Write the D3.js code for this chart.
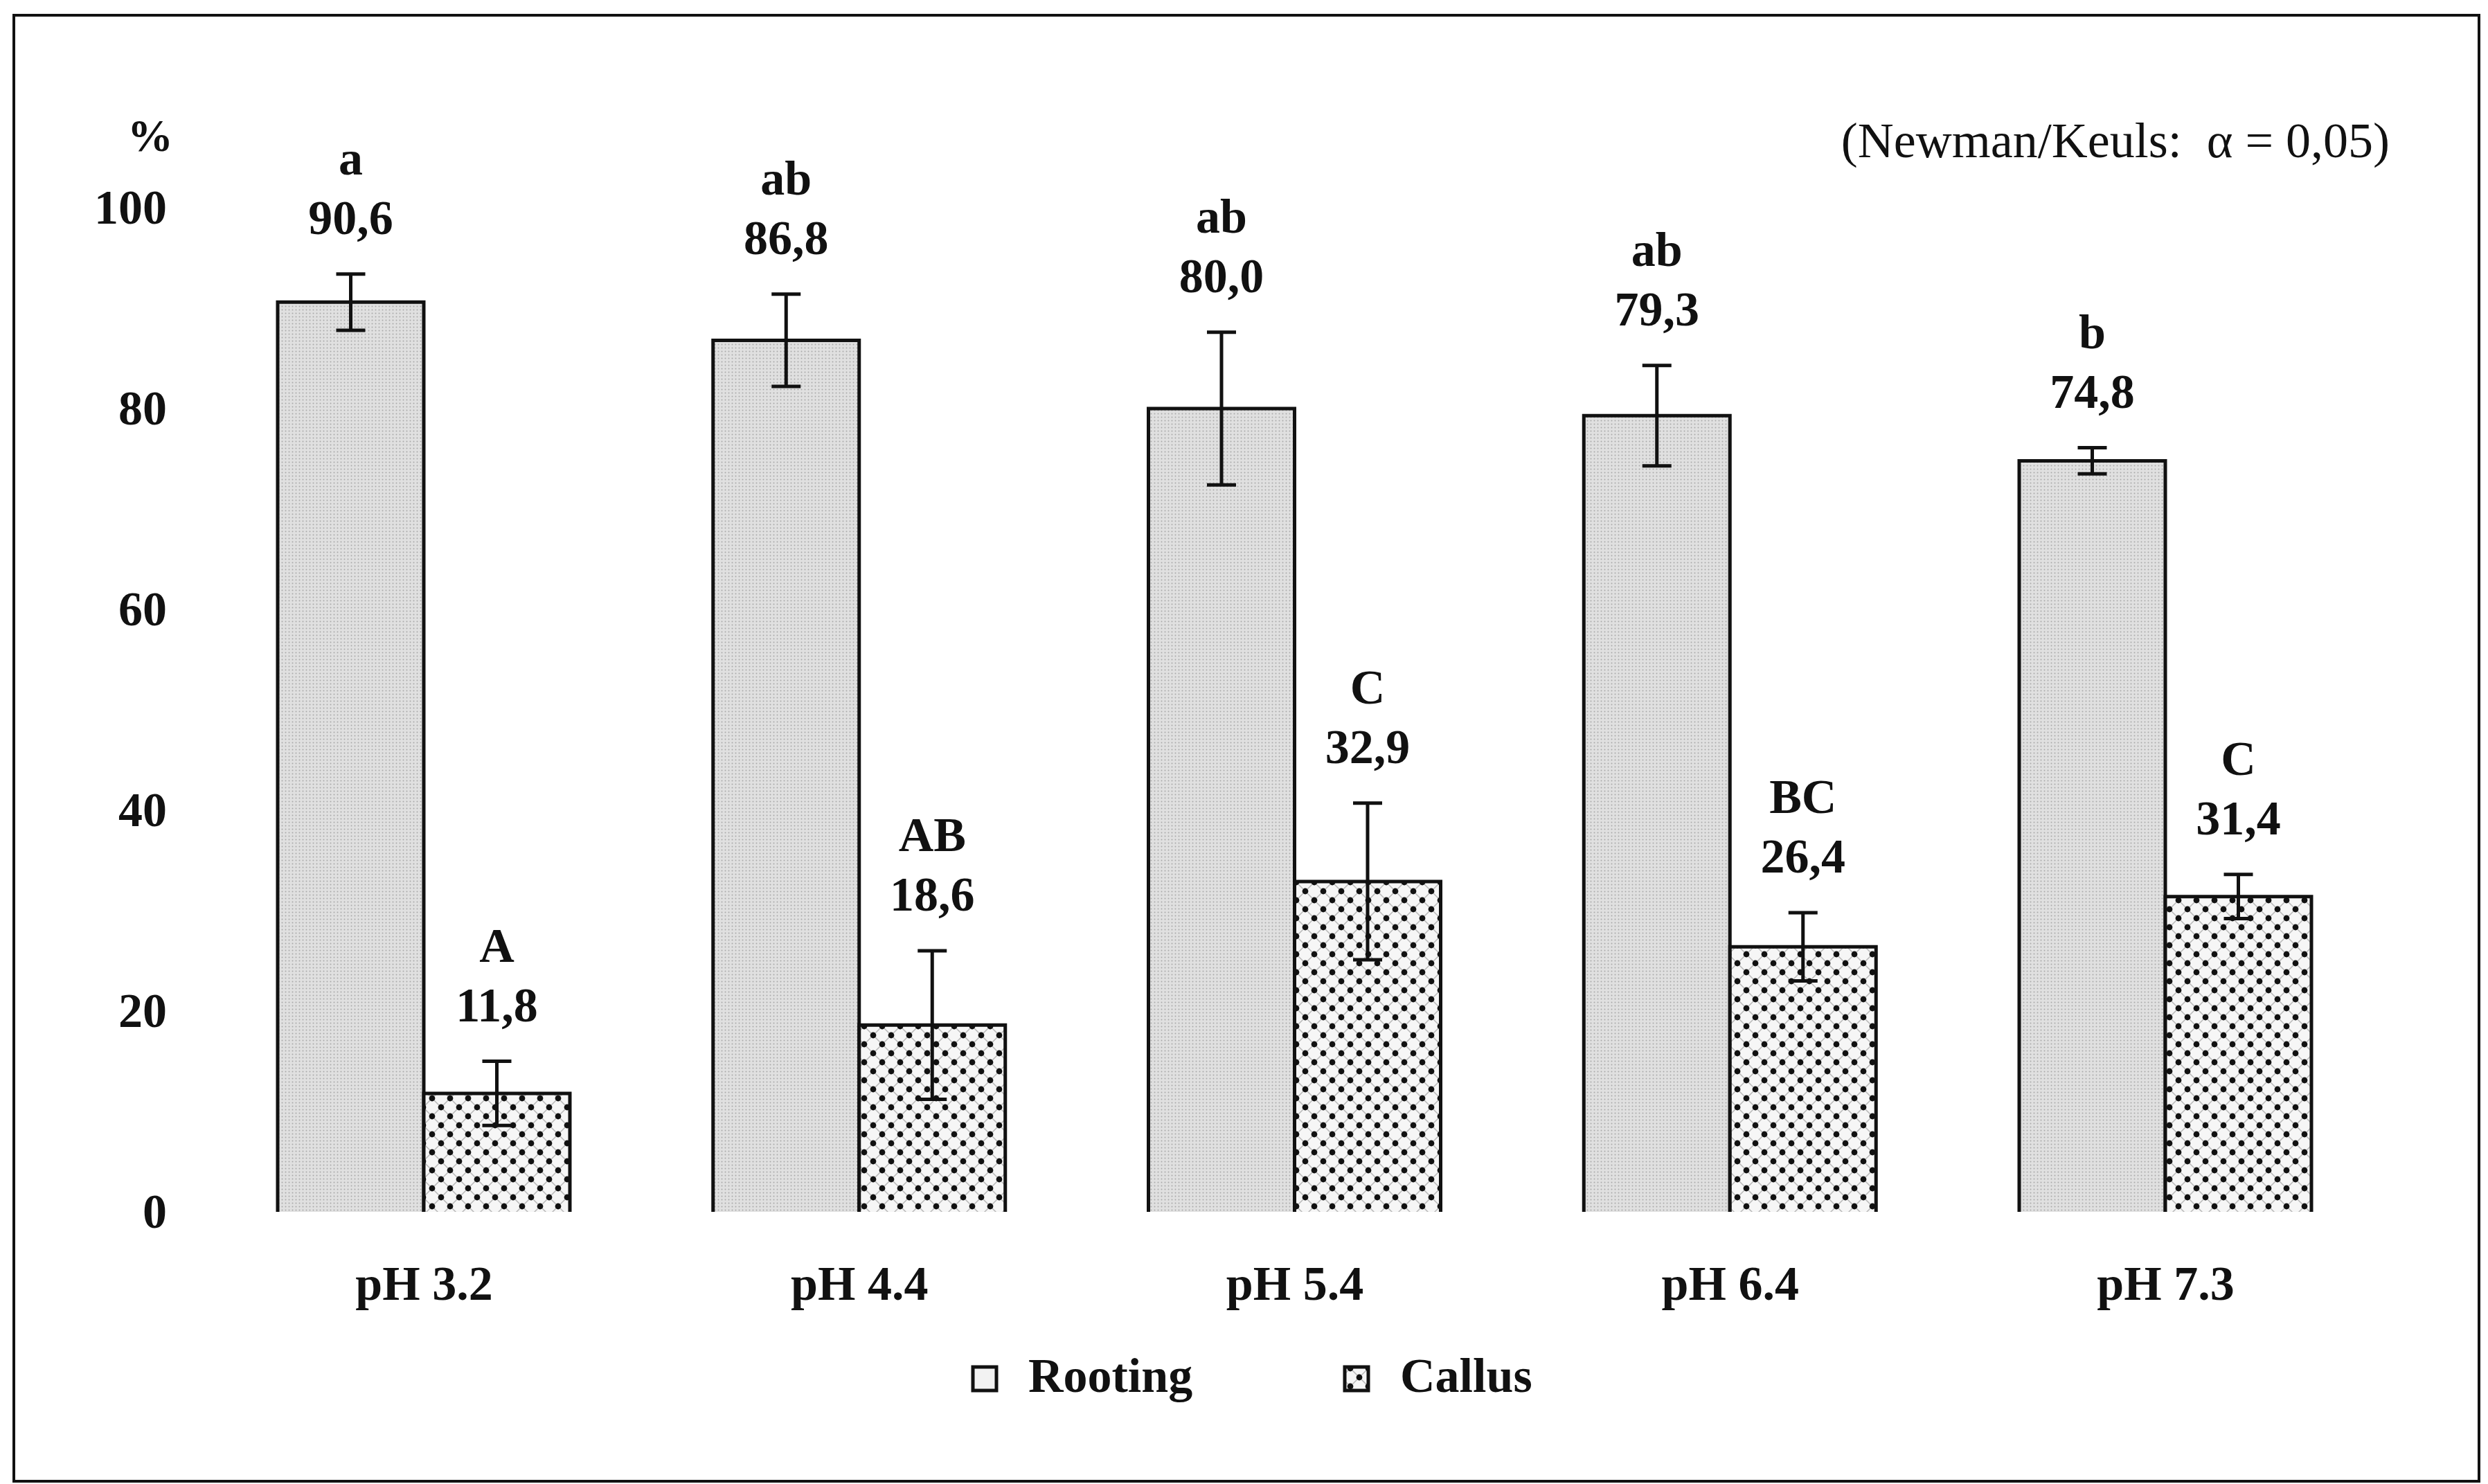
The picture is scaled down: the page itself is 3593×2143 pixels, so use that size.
<!DOCTYPE html>
<html>
<head>
<meta charset="utf-8">
<script src="https://cdn.jsdelivr.net/npm/d3@7"></script>
<style>
  body { margin: 0; background: #fff; }
  svg { display: block; }
  text { font-family: "Liberation Serif", "DejaVu Serif", serif; fill: #111; }
</style>
</head>
<body>
<div id="chart"></div>
<script>
// values
const categories = ["pH 3.2", "pH 4.4", "pH 5.4", "pH 6.4", "pH 7.3"];
const seriesNames = ["Rooting", "Callus"];
const rooting = [90.6, 86.8, 80.0, 79.3, 74.8];
const rootingErr = [2.8, 4.6, 7.6, 5.0, 1.3];
const rootingLetters = ["a", "ab", "ab", "ab", "b"];
const callus = [11.8, 18.6, 32.9, 26.4, 31.4];
const callusErr = [3.2, 7.4, 7.8, 3.4, 2.2];
const callusLetters = ["A", "AB", "C", "BC", "C"];
const yTicks = [0, 20, 40, 60, 80, 100];
const note = "(Newman/Keuls:  \u03b1 = 0,05)";

const width = 3593, height = 2143;
const fontSize = 70;
const barW = 211;

const de = d3.formatLocale({ decimal: ",", thousands: ".", grouping: [3], currency: ["", "€"] });
const fmt = de.format(".1f");

const svg = d3.select("#chart").append("svg")
  .attr("width", width)
  .attr("height", height);

const defs = svg.append("defs");

// light stippled grey for rooting
const rootPat = defs.append("pattern")
  .attr("id", "rootPat")
  .attr("patternUnits", "userSpaceOnUse")
  .attr("width", 5).attr("height", 5);
rootPat.append("rect").attr("width", 5).attr("height", 5).attr("fill", "#e0e0e0");
rootPat.append("circle").attr("cx", 2.5).attr("cy", 2.5).attr("r", 1).attr("fill", "#aaa");

// dotted diamond pattern for callus
const pw = 26;
const callPat = defs.append("pattern")
  .attr("id", "callPat")
  .attr("patternUnits", "userSpaceOnUse")
  .attr("width", pw).attr("height", pw);
callPat.append("rect").attr("width", pw).attr("height", pw).attr("fill", "#f6f6f6");
callPat.append("path")
  .attr("d", `M0,0L${pw},${pw}M${pw},0L0,${pw}`)
  .attr("stroke", "#b8b8b8").attr("stroke-width", 1.5);
[[0, 0], [pw, 0], [0, pw], [pw, pw], [pw / 2, pw / 2]].forEach(([cx, cy]) => {
  callPat.append("circle").attr("cx", cx).attr("cy", cy).attr("r", 4.4).attr("fill", "#111");
});

// outer frame
svg.append("rect")
  .attr("x", 20).attr("y", 22)
  .attr("width", 3560).attr("height", 2117)
  .attr("fill", "none")
  .attr("stroke", "#111")
  .attr("stroke-width", 4);

const x = d3.scalePoint()
  .domain(categories)
  .range([612, 3127]);

const y = d3.scaleLinear()
  .domain([0, 100])
  .range([1750, 300]);

// y axis labels only
const yAxis = svg.append("g")
  .attr("transform", "translate(241,0)")
  .call(d3.axisLeft(y).tickValues(yTicks).tickSize(0).tickPadding(0).tickFormat(d3.format("d")));
yAxis.select(".domain").remove();
yAxis.selectAll("text")
  .attr("font-size", fontSize)
  .attr("font-weight", "bold")
  .attr("font-family", "Liberation Serif, DejaVu Serif, serif")
  .attr("fill", "#111");

svg.append("text")
  .attr("x", 217).attr("y", 218)
  .attr("text-anchor", "middle")
  .attr("font-size", 66)
  .attr("font-weight", "bold")
  .text("%");

// x axis labels
const xAxis = svg.append("g")
  .attr("transform", "translate(0,1750)")
  .call(d3.axisBottom(x).tickSize(0).tickPadding(77));
xAxis.select(".domain").remove();
xAxis.selectAll("text")
  .attr("font-size", fontSize)
  .attr("font-weight", "bold")
  .attr("font-family", "Liberation Serif, DejaVu Serif, serif")
  .attr("fill", "#111");

const series = [
  { name: seriesNames[0], values: rooting, err: rootingErr, letters: rootingLetters, fill: "url(#rootPat)", off: -barW },
  { name: seriesNames[1], values: callus, err: callusErr, letters: callusLetters, fill: "url(#callPat)", off: 0 }
];

series.forEach(s => {
  const g = svg.append("g").attr("class", "series-" + s.name);
  const rows = categories.map((c, i) => ({ c, v: s.values[i], e: s.err[i], l: s.letters[i] }));

  g.selectAll("rect.bar")
    .data(rows)
    .join("rect")
    .attr("class", "bar")
    .attr("x", d => x(d.c) + s.off)
    .attr("y", d => y(d.v))
    .attr("width", barW)
    .attr("height", d => y(0) - y(d.v))
    .attr("fill", s.fill);

  // outline on left, top and right only
  g.selectAll("path.edge")
    .data(rows)
    .join("path")
    .attr("class", "edge")
    .attr("d", d => {
      const x0 = x(d.c) + s.off, x1 = x0 + barW;
      return `M${x0},${y(0)}V${y(d.v)}H${x1}V${y(0)}`;
    })
    .attr("fill", "none")
    .attr("stroke", "#111")
    .attr("stroke-width", 5);

  // error bars
  const cx = d => x(d.c) + s.off + barW / 2;
  g.selectAll("path.err")
    .data(rows)
    .join("path")
    .attr("class", "err")
    .attr("d", d => {
      const t = y(d.v + d.e), b = y(d.v - d.e), c = cx(d);
      return `M${c},${t}V${b}M${c - 21},${t}H${c + 21}M${c - 21},${b}H${c + 21}`;
    })
    .attr("fill", "none")
    .attr("stroke", "#111")
    .attr("stroke-width", 5);

  g.selectAll("text.val")
    .data(rows)
    .join("text")
    .attr("class", "val")
    .attr("x", cx)
    .attr("y", d => y(d.v + d.e) - 58)
    .attr("text-anchor", "middle")
    .attr("font-size", fontSize)
    .attr("font-weight", "bold")
    .text(d => fmt(d.v));

  g.selectAll("text.grp")
    .data(rows)
    .join("text")
    .attr("class", "grp")
    .attr("x", cx)
    .attr("y", d => y(d.v + d.e) - 58 - 86)
    .attr("text-anchor", "middle")
    .attr("font-size", fontSize)
    .attr("font-weight", "bold")
    .text(d => d.l);
});

// note top right
svg.append("text")
  .attr("x", 3451).attr("y", 227)
  .attr("text-anchor", "end")
  .attr("font-size", 72)
  .style("white-space", "pre")
  .attr("fill", "#333")
  .text(note);

// legend
const legendX = [1405, 1942];
const legend = svg.append("g").attr("class", "legend");
series.forEach((s, i) => {
  legend.append("rect")
    .attr("x", legendX[i]).attr("y", 1974)
    .attr("width", 34).attr("height", 34)
    .attr("fill", i === 0 ? "#f2f2f2" : s.fill)
    .attr("stroke", "#111")
    .attr("stroke-width", 5);
  legend.append("text")
    .attr("x", legendX[i] + 80).attr("y", 2010)
    .attr("font-size", fontSize)
    .attr("font-weight", "bold")
    .text(s.name);
});
</script>
</body>
</html>
